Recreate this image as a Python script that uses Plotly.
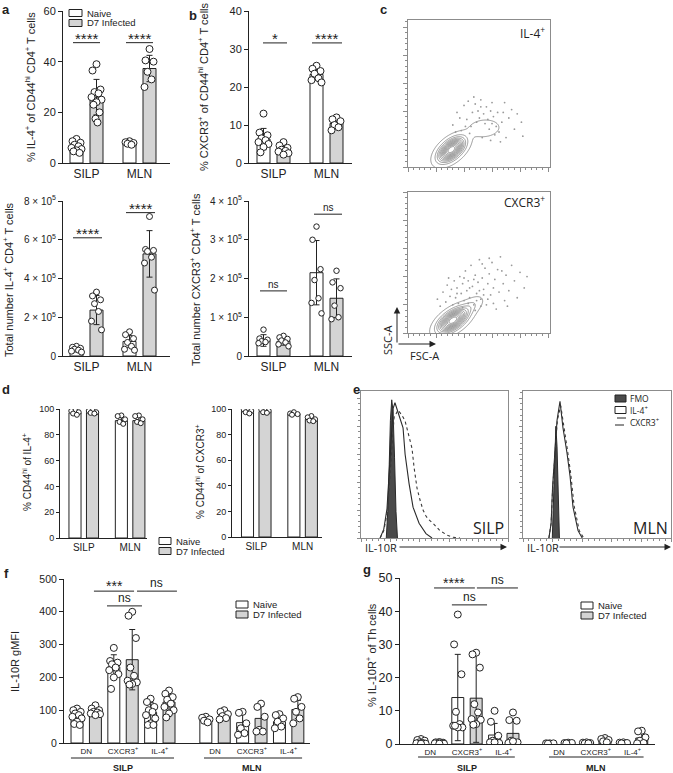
import numpy as np
import plotly.graph_objects as go

W, H = 673, 773
FONT = "Liberation Sans, Arial, sans-serif"
FLOW_FONT = "Open Sans, Liberation Sans, sans-serif"
INK = "#222222"
BOX = "#8c8c8c"
NAIVE_FILL = "#ffffff"
INF_FILL = "#d4d4d4"

SITES = ["SILP", "MLN"]
GROUPS = ["Naive", "D7 Infected"]
SUBSETS = ["DN", "CXCR3<sup>+</sup>", "IL-4<sup>+</sup>"]

# ---- a: IL-4+ (order: SILP naive, SILP D7, MLN naive, MLN D7)
A_PCT_MEAN = [6.8, 26.0, 7.9, 37.3]
A_PCT_SD = [1.6, 7.0, 0.6, 5.2]
A_PCT_DOTS = [
    [9.5, 8.6, 8.0, 7.2, 6.6, 6.0, 5.5, 5.0, 4.6, 4.0],
    [39.0, 36.5, 29.0, 28.0, 27.5, 26.0, 25.0, 24.0, 23.0, 20.0, 17.5, 16.0],
    [8.6, 8.2, 7.9, 7.6, 7.2],
    [45.0, 40.5, 40.0, 36.0, 33.0, 30.0],
]
A_NUM_MEAN = [0.35e5, 2.37e5, 0.75e5, 5.27e5]
A_NUM_SD = [0.1e5, 0.75e5, 0.3e5, 1.2e5]
A_NUM_DOTS = [
    [0.5e5, 0.45e5, 0.4e5, 0.35e5, 0.3e5, 0.25e5, 0.2e5],
    [3.3e5, 3.1e5, 2.9e5, 2.7e5, 2.3e5, 1.8e5, 1.35e5],
    [1.25e5, 1.1e5, 0.9e5, 0.7e5, 0.5e5, 0.35e5, 0.3e5],
    [7.2e5, 5.5e5, 5.45e5, 5.4e5, 5.1e5, 4.8e5, 3.4e5],
]

# ---- b: CXCR3+
B_PCT_MEAN = [6.3, 3.5, 23.3, 10.4]
B_PCT_SD = [2.8, 1.1, 1.5, 1.3]
B_PCT_DOTS = [
    [13.0, 8.0, 7.3, 6.5, 6.0, 5.5, 5.0, 4.2, 2.8],
    [5.5, 4.6, 4.0, 3.5, 3.2, 3.0, 2.6, 2.2],
    [25.6, 24.8, 24.2, 23.5, 22.3, 21.8, 21.2],
    [12.0, 11.5, 11.0, 10.0, 9.4, 8.6],
]
B_NUM_MEAN = [0.4e5, 0.38e5, 2.15e5, 1.49e5]
B_NUM_SD = [0.15e5, 0.1e5, 0.83e5, 0.5e5]
B_NUM_DOTS = [
    [0.68e5, 0.45e5, 0.42e5, 0.38e5, 0.36e5, 0.33e5],
    [0.52e5, 0.48e5, 0.44e5, 0.4e5, 0.35e5, 0.3e5, 0.25e5],
    [3.34e5, 3.0e5, 2.24e5, 1.96e5, 1.49e5, 1.37e5, 1.1e5],
    [2.2e5, 1.9e5, 1.75e5, 1.3e5, 1.0e5, 0.95e5],
]

# ---- c: flow contour (SSC-A vs FSC-A, arbitrary units) — blob shapes and events
C_IL4_BLOBS = dict(cx=[1.55, 2.72], cy=[0.62, 1.38], s_major=[0.33, 0.34], s_minor=[0.18, 0.19],
                   angle=[40, 5], weight=[1.0, 0.1])
C_CX_BLOBS = dict(cx=[1.6, 2.25], cy=[0.45, 0.95], s_major=[0.36, 0.3], s_minor=[0.18, 0.15],
                  angle=[35, 35], weight=[1.0, 0.1])
C_IL4_EVENTS_X = [1.6, 1.75, 1.9, 2.0, 2.1, 2.15, 2.25, 2.3, 2.4, 2.45, 2.5, 2.55, 2.6, 2.7, 2.75, 2.8,
                  2.85, 2.9, 2.95, 3.0, 3.05, 3.1, 3.15, 3.2, 3.25, 3.35, 3.45, 3.5, 3.6, 3.7, 3.8, 3.9,
                  4.05, 4.1, 1.85, 2.2, 2.65, 2.95, 3.3, 1.7, 2.35, 2.05, 3.4, 2.6, 3.0]
C_IL4_EVENTS_Y = [1.5, 1.95, 1.3, 2.2, 1.7, 2.35, 1.45, 1.95, 2.25, 1.6, 2.0, 1.75, 2.4, 1.9, 1.55, 2.15,
                  1.7, 1.35, 2.0, 1.55, 1.8, 1.15, 1.45, 1.95, 1.25, 1.6, 2.3, 1.05, 1.75, 2.05, 1.35, 1.9,
                  1.6, 1.1, 1.75, 1.2, 1.05, 0.95, 0.9, 1.25, 2.5, 1.45, 1.95, 2.15, 2.3]
C_CX_EVENTS_X = [1.05, 1.15, 1.25, 1.35, 1.4, 1.5, 1.55, 1.6, 1.65, 1.7, 1.75, 1.8, 1.85, 1.9, 1.95, 2.0,
                 2.05, 2.1, 2.15, 2.2, 2.25, 2.3, 2.35, 2.4, 2.45, 2.5, 2.55, 2.6, 2.65, 2.7, 2.75, 2.8,
                 2.85, 2.9, 2.95, 3.0, 3.05, 3.1, 3.15, 3.2, 3.25, 3.3, 3.4, 3.45, 3.5, 3.6, 3.7, 3.8,
                 3.9, 4.0, 4.15, 4.25, 1.95, 2.15, 2.4, 2.6, 2.2, 2.45, 2.7, 2.35, 2.55, 2.85, 3.05,
                 1.75, 2.0, 2.65, 3.35, 3.55, 2.9, 1.45]
C_CX_EVENTS_Y = [1.2, 0.95, 1.45, 1.1, 1.7, 1.3, 1.55, 1.0, 1.85, 1.25, 1.6, 1.05, 2.0, 1.4, 1.75, 1.15,
                 2.2, 1.5, 1.85, 1.25, 2.4, 1.65, 1.0, 2.05, 1.4, 1.8, 2.6, 1.2, 1.95, 1.55, 2.3, 1.0,
                 1.75, 2.1, 1.35, 2.5, 1.6, 1.9, 0.85, 2.25, 1.45, 2.7, 1.75, 1.15, 2.05, 1.5, 2.4, 1.85,
                 1.25, 2.15, 1.6, 2.0, 0.9, 1.05, 0.8, 0.95, 1.6, 1.15, 1.35, 1.9, 1.5, 1.2, 1.05,
                 1.4, 1.95, 2.45, 2.2, 0.95, 2.65, 1.95]

# ---- d: % CD44hi
D_IL4_MEAN = [97.0, 97.5, 91.0, 91.0]
D_IL4_SD = [1.5, 1.0, 2.5, 2.5]
D_IL4_DOTS = [[99, 98.5, 97.5, 96.5, 95.5], [99, 98.5, 97.5, 97, 96.5],
              [95, 94.5, 92, 90, 88.5], [95, 94.5, 92, 90, 89]]
D_CX_MEAN = [98.5, 98.0, 96.3, 92.0]
D_CX_SD = [1.2, 1.0, 0.8, 1.5]
D_CX_DOTS = [[100, 99.5, 98.5, 97.5, 96.5], [99.5, 99.5, 98.5, 97.5, 97],
             [97.5, 96.5, 96, 95.5], [94.5, 93.5, 92, 91, 90.5]]

# ---- e: IL-10R histograms (x: relative fluorescence, y: % of max)
E_SILP_FMO_X = [0.172, 0.182, 0.192, 0.2, 0.209, 0.218, 0.228, 0.238, 0.248]
E_SILP_FMO_Y = [0, 18, 50, 80, 94, 86, 55, 18, 0]
E_SILP_IL4_X = [0.13, 0.155, 0.177, 0.197, 0.218, 0.231, 0.252, 0.265, 0.286, 0.30, 0.327, 0.354, 0.395, 0.442, 0.483]
E_SILP_IL4_Y = [0, 6, 20, 55, 88, 92, 86, 82, 75, 57, 37, 21, 10, 3, 0]
E_SILP_CX_X = [0.13, 0.155, 0.18, 0.20, 0.225, 0.252, 0.275, 0.299, 0.32, 0.347, 0.361, 0.381, 0.401,
               0.422, 0.442, 0.456, 0.49, 0.537, 0.585, 0.626, 0.673]
E_SILP_CX_Y = [0, 5, 18, 50, 82, 87, 84, 80, 72, 61, 48, 34, 26, 19, 15, 13, 10, 5, 2, 0.5, 0]
E_MLN_FMO_X = [0.198, 0.207, 0.215, 0.222, 0.23, 0.238, 0.246]
E_MLN_FMO_Y = [0, 30, 62, 76, 62, 25, 0]
E_MLN_IL4_X = [0.175, 0.19, 0.20, 0.215, 0.23, 0.25, 0.27, 0.297, 0.318, 0.338, 0.372, 0.40]
E_MLN_IL4_Y = [0, 10, 35, 60, 80, 93, 75, 58, 42, 21, 5, 0]
E_MLN_CX_X = [0.175, 0.19, 0.20, 0.215, 0.232, 0.255, 0.275, 0.30, 0.322, 0.345, 0.38, 0.41]
E_MLN_CX_Y = [0, 10, 33, 58, 80, 90, 78, 60, 44, 22, 5, 0]

# ---- f: IL-10R gMFI (DN naive, DN D7, CXCR3 naive, CXCR3 D7, IL-4 naive, IL-4 D7)
F_SILP_MEAN = [88, 95, 232, 254, 93, 125]
F_SILP_SD = [18, 10, 37, 92, 30, 30]
F_SILP_DOTS = [
    [105, 100, 95, 90, 85, 80, 75, 65, 58, 55],
    [115, 105, 100, 95, 93, 90, 88, 85],
    [290, 250, 245, 240, 230, 222, 210, 200, 165],
    [400, 388, 320, 230, 205, 190, 185, 180, 178],
    [135, 125, 110, 100, 95, 85, 75, 60, 55, 55],
    [160, 150, 140, 132, 120, 110, 100, 90, 78],
]
F_MLN_MEAN = [70, 82, 62, 75, 65, 102]
F_MLN_SD = [8, 12, 30, 38, 18, 28]
F_MLN_DOTS = [
    [80, 77, 72, 68, 63],
    [100, 95, 88, 82, 76, 72],
    [95, 92, 60, 45, 30, 25],
    [120, 110, 80, 40, 35, 35],
    [88, 85, 75, 65, 50, 45],
    [140, 135, 110, 95, 75, 60],
]

# ---- g: % IL-10R+ of Th cells
G_SILP_MEAN = [0.5, 0.3, 14.0, 13.8, 2.7, 3.2]
G_SILP_SD = [0.5, 0.2, 13.0, 13.3, 3.5, 3.6]
G_SILP_DOTS = [
    [1.5, 1.2, 1.0, 0.5, 0.3, 0.2, 0.1, 0.1],
    [0.6, 0.5, 0.4, 0.3, 0.2, 0.2, 0.1, 0.1],
    [39, 30, 21, 9.7, 6.0, 5.5, 5.0, 5.0, 5.5],
    [27.5, 27.0, 23.0, 12.0, 9.5, 7.5, 7.3, 6.0, 5.8],
    [10.0, 6.7, 2.5, 1.0, 0.5, 0.5, 0.3, 0.5],
    [9.5, 7.2, 7.0, 1.0, 0.5, 0.3, 0.5, 0.8],
]
G_MLN_MEAN = [0.2, 0.3, 0.3, 1.2, 0.3, 1.8]
G_MLN_SD = [0.1, 0.1, 0.2, 0.5, 0.2, 1.5]
G_MLN_DOTS = [
    [0.2, 0.2, 0.2, 0.1],
    [0.4, 0.3, 0.3, 0.2],
    [0.5, 0.4, 0.3, 0.2, 0.2],
    [1.8, 1.5, 1.2, 0.8, 0.5],
    [0.5, 0.4, 0.3, 0.2],
    [4.0, 3.8, 2.0, 1.0, 0.3, 0.2],
]

# ====================================================================
fig = go.Figure()
annotations = []
shapes = []


def keys(n):
    s = "" if n == 1 else str(n)
    return "x" + s, "y" + s, "xaxis" + s, "yaxis" + s


def xdom(l, r):
    return [l / W, r / W]


def ydom(top, bot):
    return [1 - bot / H, 1 - top / H]


def px(x):
    return x / W


def py(y):
    return 1 - y / H


JIT = [0.0, -0.2, 0.2, -0.1, 0.1, -0.25, 0.25, 0.0, -0.15, 0.15, -0.05, 0.05]
POS4 = [0, 1, 2.65, 3.65]
SITE_TICKS = [0.5, 3.15]
POS12 = [0, 1, 2, 3, 4, 5, 7, 8, 9, 10, 11, 12]
SUB_TICKS = [0.5, 2.5, 4.5, 7.5, 9.5, 11.5]
FILL4 = [NAIVE_FILL, INF_FILL, NAIVE_FILL, INF_FILL]
FILL12 = [NAIVE_FILL, INF_FILL] * 6


def add_bar_group(n, pos, means, sds, dots, fills, bw, dot_size, err_w=3):
    xa, ya, _, _ = keys(n)
    fig.add_trace(go.Bar(x=pos, y=means, width=bw, xaxis=xa, yaxis=ya,
                         marker=dict(color=fills, line=dict(color=INK, width=1)),
                         error_y=dict(type="data", array=sds, color=INK, thickness=1, width=err_w),
                         hoverinfo="skip"))
    xs, ys = [], []
    for p, vals in zip(pos, dots):
        for j, v in enumerate(vals):
            xs.append(p + JIT[j % len(JIT)] * bw / 0.65)
            ys.append(v)
    fig.add_trace(go.Scatter(x=xs, y=ys, mode="markers", xaxis=xa, yaxis=ya,
                             marker=dict(symbol="circle", size=dot_size, color="white",
                                         line=dict(color=INK, width=1)),
                             hoverinfo="skip"))


def bar_axes(n, xd, yd, xr, yr, xtv, xtt, ytv, ytt, xfs=12, yfs=11, ticklen=4):
    xa, ya, xk, yk = keys(n)
    fig.update_layout(**{
        xk: dict(domain=xd, anchor=ya, range=xr, showline=True, linecolor=INK, linewidth=1,
                 ticks="", tickvals=xtv, ticktext=xtt, automargin=False,
                 tickfont=dict(size=xfs, color=INK, family=FONT),
                 showgrid=False, zeroline=False),
        yk: dict(domain=yd, anchor=xa, range=yr, showline=True, linecolor=INK, linewidth=1,
                 ticks="outside", ticklen=ticklen, tickwidth=1, tickcolor=INK, automargin=False,
                 tickvals=ytv, ticktext=ytt, tickfont=dict(size=yfs, color=INK, family=FONT),
                 showgrid=False, zeroline=False),
    })


def ptext(x, y, text, size=11, angle=0, bold=False, xanchor="center", yanchor="middle", family=FONT):
    if bold:
        text = "<b>" + text + "</b>"
    annotations.append(dict(x=px(x), y=py(y), xref="paper", yref="paper", text=text, showarrow=False,
                            textangle=angle, xanchor=xanchor, yanchor=yanchor,
                            font=dict(size=size, color=INK, family=family)))


def arrow(x_tail, y_tail, x_head, y_head):
    annotations.append(dict(x=px(x_head), y=py(y_head), xref="paper", yref="paper",
                            ax=x_tail - x_head, ay=y_tail - y_head, showarrow=True, arrowhead=2,
                            arrowsize=1.3, arrowwidth=1, arrowcolor=INK, text=""))


def sig(n, x0, x1, yv, text, size=12, yshift=-1):
    xa, ya, _, _ = keys(n)
    shapes.append(dict(type="line", xref=xa, yref=ya, x0=x0, x1=x1, y0=yv, y1=yv,
                       line=dict(color=INK, width=1)))
    annotations.append(dict(x=(x0 + x1) / 2, y=yv, xref=xa, yref=ya, text=text, showarrow=False,
                            xanchor="center", yanchor="bottom", yshift=yshift,
                            font=dict(size=size, color=INK, family=FONT)))


def legend(x0, y0, box_w, box_h, gap, size=9.5):
    for i, (g, f) in enumerate(zip(GROUPS, [NAIVE_FILL, INF_FILL])):
        top = y0 + i * gap
        shapes.append(dict(type="rect", xref="paper", yref="paper", x0=px(x0), x1=px(x0 + box_w),
                           y0=py(top + box_h), y1=py(top), fillcolor=f, line=dict(color=INK, width=1)))
        ptext(x0 + box_w + 3, top + box_h / 2, g, size=size, xanchor="left")


def group_labels(n, y_line, y_text, spans):
    xa = keys(n)[0]
    for lab, a0, a1, c in spans:
        shapes.append(dict(type="line", xref=xa, yref="paper", x0=a0, x1=a1, y0=py(y_line), y1=py(y_line),
                           line=dict(color=INK, width=1)))
        annotations.append(dict(x=c, y=py(y_text), xref=xa, yref="paper", text="<b>" + lab + "</b>",
                                showarrow=False, yanchor="middle",
                                font=dict(size=9, color=INK, family=FONT)))


# ---------------- panel a
bar_axes(1, xdom(63, 170), ydom(11, 163), [-0.675, 4.675], [0, 60], SITE_TICKS, SITES,
         [0, 20, 40, 60], ["0", "20", "40", "60"])
add_bar_group(1, POS4, A_PCT_MEAN, A_PCT_SD, A_PCT_DOTS, FILL4, 0.65, 7)
sig(1, -0.175, 1.175, 47.5, "****", size=15, yshift=-6)
sig(1, 2.475, 3.825, 47.5, "****", size=15, yshift=-6)
legend(69, 9.5, 13, 7, 10)

E5 = ["0", "2 × 10<sup>5</sup>", "4 × 10<sup>5</sup>", "6 × 10<sup>5</sup>", "8 × 10<sup>5</sup>"]
bar_axes(2, xdom(63, 170), ydom(201, 356), [-0.675, 4.675], [0, 8e5], SITE_TICKS, SITES,
         [0, 2e5, 4e5, 6e5, 8e5], E5, yfs=10)
add_bar_group(2, POS4, A_NUM_MEAN, A_NUM_SD, A_NUM_DOTS, FILL4, 0.65, 6)
sig(2, -0.175, 1.275, 6.1e5, "****", size=15, yshift=-6)
sig(2, 2.475, 3.925, 7.4e5, "****", size=15, yshift=-6)

ptext(30, 87, "% IL-4<sup>+</sup> of CD44<sup>hi</sup> CD4<sup>+</sup> T cells", size=11, angle=-90)
ptext(8, 280, "Total number IL-4<sup>+</sup> CD4<sup>+</sup> T cells", size=11, angle=-90)

# ---------------- panel b
bar_axes(3, xdom(249, 352), ydom(11, 163), [-0.725, 4.425], [0, 40], SITE_TICKS, SITES,
         [0, 10, 20, 30, 40], ["0", "10", "20", "30", "40"])
add_bar_group(3, POS4, B_PCT_MEAN, B_PCT_SD, B_PCT_DOTS, FILL4, 0.65, 7)
sig(3, -0.025, 1.175, 31.6, "*", size=15, yshift=-6)
sig(3, 2.425, 3.925, 31.6, "****", size=15, yshift=-6)

E5b = ["0", "1 × 10<sup>5</sup>", "2 × 10<sup>5</sup>", "3 × 10<sup>5</sup>", "4 × 10<sup>5</sup>"]
bar_axes(4, xdom(249, 352), ydom(201, 356), [-0.725, 4.425], [0, 4e5], SITE_TICKS, SITES,
         [0, 1e5, 2e5, 3e5, 4e5], E5b, yfs=10)
add_bar_group(4, POS4, B_NUM_MEAN, B_NUM_SD, B_NUM_DOTS, FILL4, 0.65, 5.5)
sig(4, -0.175, 1.175, 1.68e5, "ns", size=10)
sig(4, 2.525, 3.925, 3.66e5, "ns", size=10)

ptext(203, 87, "% CXCR3<sup>+</sup> of CD44<sup>hi</sup> CD4<sup>+</sup> T cells", size=11, angle=-90)
ptext(195, 280, "Total number CXCR3<sup>+</sup> CD4<sup>+</sup> T cells", size=11, angle=-90)

# ---------------- panel c (flow contours)
gx = np.linspace(0, 5.1, 205)
gy = np.linspace(-0.4, 5.25, 227)


def blob_density(blobs):
    X, Y = np.meshgrid(gx, gy)
    Z = np.zeros_like(X)
    for cx, cy, sa, sb, ang, w in zip(blobs["cx"], blobs["cy"], blobs["s_major"], blobs["s_minor"],
                                      blobs["angle"], blobs["weight"]):
        t = np.deg2rad(ang)
        u = (X - cx) * np.cos(t) + (Y - cy) * np.sin(t)
        v = -(X - cx) * np.sin(t) + (Y - cy) * np.cos(t)
        Z += w * np.exp(-0.5 * ((u / sa) ** 2 + (v / sb) ** 2))
    return Z


def flow_axes(n, xd, yd, xr, yr):
    xa, ya, xk, yk = keys(n)
    common = dict(showline=True, mirror=True, linecolor=BOX, linewidth=1, ticks="outside", ticklen=4,
                  tickcolor=BOX, tickwidth=1, dtick=1, tick0=0, showticklabels=False, showgrid=False,
                  zeroline=False, automargin=False,
                  minor=dict(ticks="outside", ticklen=2, dtick=0.2, tickcolor=BOX, showgrid=False))
    fig.update_layout(**{xk: dict(domain=xd, anchor=ya, range=xr, **common),
                         yk: dict(domain=yd, anchor=xa, range=yr, **common)})


for n, blobs, ex, ey, yd, yr in [
    (5, C_IL4_BLOBS, C_IL4_EVENTS_X, C_IL4_EVENTS_Y, ydom(20, 167), [0, 5.25]),
    (6, C_CX_BLOBS, C_CX_EVENTS_X, C_CX_EVENTS_Y, ydom(192, 333), [0, 5.0]),
]:
    xa, ya, _, _ = keys(n)
    flow_axes(n, xdom(408, 550), yd, [0, 5.07], yr)
    fig.add_trace(go.Scatter(x=ex, y=ey, mode="markers", xaxis=xa, yaxis=ya,
                             marker=dict(size=1.8, color="#9a9a9a"), hoverinfo="skip"))
    fig.add_trace(go.Contour(x=gx, y=gy, z=blob_density(blobs), xaxis=xa, yaxis=ya,
                             contours=dict(coloring="lines", start=0.03, end=0.95, size=0.08),
                             line=dict(width=0.75, smoothing=1.0),
                             colorscale=[[0, "#777777"], [1, "#777777"]], showscale=False,
                             hoverinfo="skip"))

ptext(547, 33, "IL-4<sup>+</sup>", size=12, xanchor="right", family=FLOW_FONT)
ptext(547, 202, "CXCR3<sup>+</sup>", size=12, xanchor="right", family=FLOW_FONT)
arrow(397, 344, 397, 307)
arrow(397, 344, 436, 344)
ptext(387, 340, "SSC-A", size=11, angle=-90, family=FLOW_FONT)
ptext(424, 355, "FSC-A", size=11, family=FLOW_FONT)

# ---------------- panel d
D_TICKS = [0, 20, 40, 60, 80, 100]
bar_axes(7, xdom(60, 147), ydom(409, 538), [-0.857, 4.114], [0, 100], SITE_TICKS, SITES,
         D_TICKS, [str(t) for t in D_TICKS], xfs=10, yfs=9, ticklen=3)
add_bar_group(7, POS4, D_IL4_MEAN, D_IL4_SD, D_IL4_DOTS, FILL4, 0.69, 5, err_w=2)
bar_axes(8, xdom(232, 322), ydom(409, 537), [-0.886, 4.257], [0, 100], SITE_TICKS, SITES,
         D_TICKS, [str(t) for t in D_TICKS], xfs=10, yfs=9, ticklen=3)
add_bar_group(8, POS4, D_CX_MEAN, D_CX_SD, D_CX_DOTS, FILL4, 0.69, 5, err_w=2)
ptext(27, 472, "% CD44<sup>hi</sup> of IL-4<sup>+</sup>", size=10, angle=-90)
ptext(200, 472, "% CD44<sup>hi</sup> of CXCR3<sup>+</sup>", size=10, angle=-90)
legend(159, 537.5, 12, 7, 10)

# ---------------- panel e (histograms)
for n, l, r, fx, fy, ix, iy, cxx, cxy, lab, lab_r in [
    (9, 361, 508, E_SILP_FMO_X, E_SILP_FMO_Y, E_SILP_IL4_X, E_SILP_IL4_Y, E_SILP_CX_X, E_SILP_CX_Y, "SILP", 506),
    (10, 523, 671, E_MLN_FMO_X, E_MLN_FMO_Y, E_MLN_IL4_X, E_MLN_IL4_Y, E_MLN_CX_X, E_MLN_CX_Y, "MLN", 670),
]:
    xa, ya, xk, yk = keys(n)
    fig.update_layout(**{
        xk: dict(domain=xdom(l, r), anchor=ya, range=[0, 1], showline=True, mirror=True, linecolor=BOX,
                 ticks="outside", ticklen=3, tickcolor=BOX, dtick=0.2, tick0=0, showticklabels=False,
                 showgrid=False, zeroline=False, automargin=False,
                 minor=dict(ticks="outside", ticklen=2, dtick=0.04, tickcolor=BOX, showgrid=False)),
        yk: dict(domain=ydom(391, 538), anchor=xa, range=[0, 100], showline=True, mirror=True,
                 linecolor=BOX, ticks="outside", ticklen=3, tickcolor=BOX, dtick=19, tick0=0,
                 showticklabels=False, showgrid=False, zeroline=False, automargin=False,
                 minor=dict(ticks="outside", ticklen=2, dtick=3.8, tickcolor=BOX, showgrid=False)),
    })
    fig.add_trace(go.Scatter(x=fx, y=fy, mode="lines", fill="tozeroy", fillcolor="#4a4a4a",
                             line=dict(color="#2a2a2a", width=1), xaxis=xa, yaxis=ya, hoverinfo="skip"))
    fig.add_trace(go.Scatter(x=ix, y=iy, mode="lines", line=dict(color="#2a2a2a", width=1.1),
                             xaxis=xa, yaxis=ya, hoverinfo="skip"))
    fig.add_trace(go.Scatter(x=cxx, y=cxy, mode="lines", line=dict(color="#3a3a3a", width=1.1, dash="dot"),
                             xaxis=xa, yaxis=ya, hoverinfo="skip"))
    ptext(lab_r, 528, lab, size=16, xanchor="right", family=FLOW_FONT)

for x_text, x0, x1 in [(363, 398, 507), (525, 558, 671)]:
    ptext(x_text, 547, "IL-10R", size=11, xanchor="left", family=FLOW_FONT)
    arrow(x0, 547, x1, 547)

for i, (lab, fill, dash) in enumerate([("FMO", "#4a4a4a", "solid"), ("IL-4<sup>+</sup>", "white", "solid"),
                                        ("CXCR3<sup>+</sup>", "white", "dash")]):
    top = 395 + i * 11.5
    shapes.append(dict(type="rect", xref="paper", yref="paper", x0=px(615), x1=px(626),
                       y0=py(top + 7), y1=py(top), fillcolor=fill, line=dict(color=INK, width=1, dash=dash)))
    ptext(628, top + 3.5, lab, size=8.5, xanchor="left", family=FLOW_FONT)

# ---------------- panel f
bar_axes(11, xdom(64, 310), ydom(579, 743), [-0.707, 12.66], [0, 500], SUB_TICKS, SUBSETS * 2,
         [0, 100, 200, 300, 400, 500], ["0", "100", "200", "300", "400", "500"], xfs=8, yfs=10.5)
add_bar_group(11, POS12, F_SILP_MEAN + F_MLN_MEAN, F_SILP_SD + F_MLN_SD, F_SILP_DOTS + F_MLN_DOTS,
              FILL12, 0.65, 7)
sig(11, 0.92, 3.1, 463, "***", size=14, yshift=-5)
sig(11, 3.26, 5.43, 463, "ns", size=12)
sig(11, 1.63, 3.53, 418, "ns", size=12)
group_labels(11, 758, 767.5, [("SILP", -0.33, 5.27, 2.5), ("MLN", 6.9, 12.23, 9.5)])
ptext(15, 662, "IL-10R gMFI", size=11, angle=-90)
legend(236, 601, 12, 7, 10)

# ---------------- panel g
bar_axes(12, xdom(400, 655), ydom(578, 744), [-1.141, 12.72], [0, 50], SUB_TICKS, SUBSETS * 2,
         [0, 10, 20, 30, 40, 50], ["0", "10", "20", "30", "40", "50"], xfs=8, yfs=12.5)
add_bar_group(12, POS12, G_SILP_MEAN + G_MLN_MEAN, G_SILP_SD + G_MLN_SD, G_SILP_DOTS + G_MLN_DOTS,
              FILL12, 0.65, 7)
sig(12, 0.71, 2.93, 47, "****", size=14, yshift=-5)
sig(12, 3.04, 5.27, 47, "ns", size=12)
sig(12, 1.68, 3.59, 41.9, "ns", size=12)
group_labels(12, 757, 767.5, [("SILP", -0.16, 5.1, 2.5), ("MLN", 6.96, 12.1, 9.5)])
ptext(371, 655, "% IL-10R<sup>+</sup> of Th cells", size=11, angle=-90)
legend(581, 602, 12, 7, 10)

# ---------------- panel letters
for lab, x, y in [("a", 6, 9), ("b", 193, 15), ("c", 383, 9), ("d", 6, 390), ("e", 356, 390),
                  ("f", 6, 573), ("g", 367, 569)]:
    ptext(x, y, lab, size=13, bold=True)

fig.update_layout(width=W, height=H,
                  margin=dict(l=0, r=0, t=0, b=0, pad=0, autoexpand=False),
                  paper_bgcolor="white", plot_bgcolor="white", showlegend=False,
                  font=dict(family=FONT, color=INK),
                  annotations=annotations, shapes=shapes, barmode="overlay")
fig.write_html("out.html", config={"displayModeBar": False},
               post_script="document.body.style.margin='0';document.body.style.overflow='hidden';")
